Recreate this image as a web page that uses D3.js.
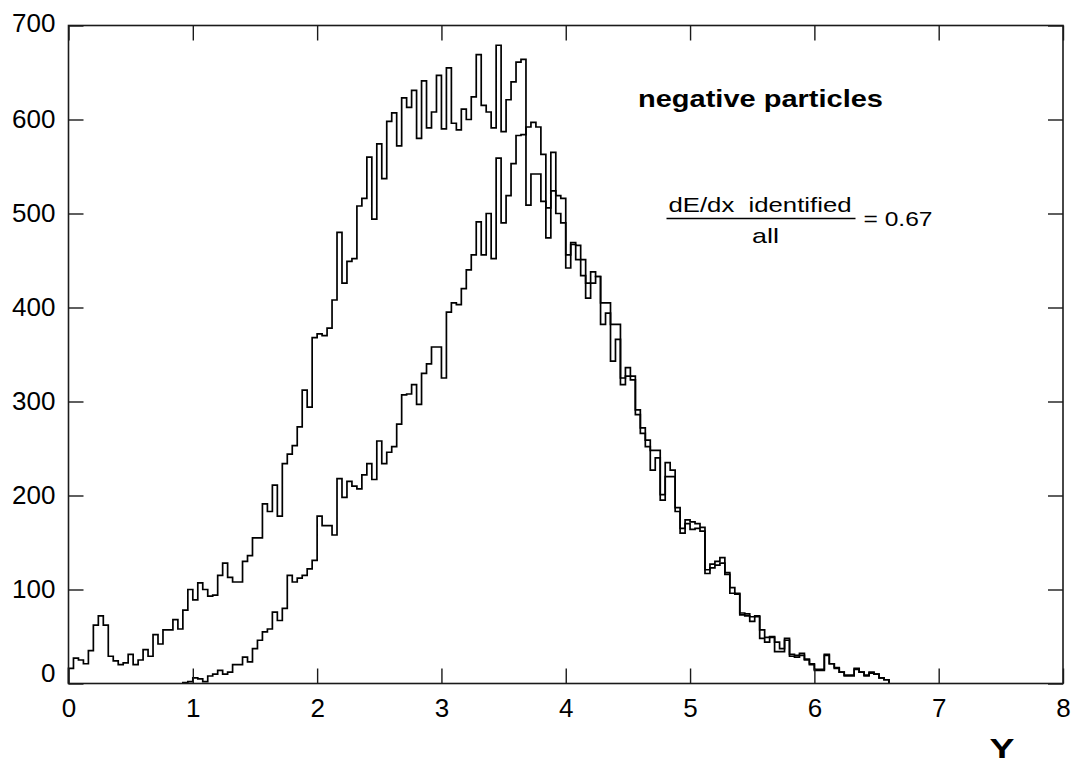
<!DOCTYPE html>
<html><head><meta charset="utf-8">
<script src="https://cdn.jsdelivr.net/npm/d3@7"></script>
<style>body{margin:0;background:#fff}svg{display:block}</style>
</head><body>
<svg id="c" width="1071" height="764"></svg>
<script>
// ---- data ----
const binWidth = 0.04;           // rapidity bin width
const allStart = 0.0;            // first bin of "all" histogram
const allCounts = [
 16,27,25,21,35,62,72,62,29,24, 20,22,31,20,25,36,29,52,42,57,
 57,68,58,78,100,89,107,100,93,94, 115,128,113,108,108,130,136,155,155,191,
 183,211,178,234,244,253,273,312,294,368, 372,370,378,408,480,426,449,452,508,516,
 560,494,574,537,598,607,572,623,613,631, 580,641,591,608,647,590,655,596,589,611,
 600,624,669,615,608,591,679,587,621,640, 661,664,509,542,542,513,474,524,519,516,
 456,469,466,451,426,438,433,405,405,382, 382,325,336,327,291,272,259,248,248,201,
 235,227,187,165,174,172,170,166,121,127, 130,134,118,102,96,75,74,71,72,57,
 49,50,44,37,48,31,30,32,26,21, 15,15,31,21,17,12,9,9,16,12,
 9,12,10,6,4
];
const identifiedStart = 0.92;    // first bin of "dE/dx identified" histogram
const identifiedCounts = [
 1,2,6,5,2,8,10,14,10,12, 20,20,28,23,37,46,55,58,76,67,
 80,115,108,112,115,122,131,178,168,168, 158,218,198,215,210,207,222,234,217,258,
 234,246,252,276,307,308,318,297,330,340, 358,358,325,395,405,403,420,440,456,491,
 456,500,452,559,490,519,553,583,584,592, 597,592,563,506,565,500,490,442,467,451,
 434,410,426,433,382,394,343,366,318,327, 323,286,266,252,227,240,195,220,220,183,
 160,170,164,165,162,117,123,126,128,116, 96,95,73,72,66,71,48,44,49,34,
 34,46,29,28,30,25,20,14,14,30, 21,16,12,8,8,15,12,8,11,10,
 6,4
];
const xTicks = [0,1,2,3,4,5,6,7,8];
const yTicks = [0,100,200,300,400,500,600,700];
const titleText = "negative particles";
const ratioNumerator = "dE/dx  identified";
const ratioDenominator = "all";
const ratioValue = "= 0.67";
const xTitle = "Y";

// ---- layout ----
const svg = d3.select("#c");
const L = 68.5, R = 1063, T = 25.5, B = 683.5;
const x = d3.scaleLinear().domain([0, 8]).range([L, R]);
const y = d3.scaleLinear().domain([0, 700]).range([B, T]);
const FONT = "'Liberation Sans', Arial, Helvetica, sans-serif";
const INK = "#1a1a1a";

function histPoints(start, counts) {
  const pts = [[start, 0]];
  counts.forEach((c, i) => pts.push([start + i * binWidth, c]));
  const end = start + counts.length * binWidth;
  pts.push([end, counts[counts.length - 1]]);
  pts.push([end, 0]);
  return pts;
}
const line = d3.line().x(d => x(d[0])).y(d => y(d[1])).curve(d3.curveStepAfter);

const plot = svg.append("g");
[[allStart, allCounts], [identifiedStart, identifiedCounts]].forEach(([s, c]) => {
  plot.append("path").attr("d", line(histPoints(s, c)))
    .attr("fill", "none").attr("stroke", "#000").attr("stroke-width", 1.7)
    .attr("stroke-linejoin", "miter");
});

// frame
svg.append("rect").attr("x", L).attr("y", T).attr("width", R - L).attr("height", B - T)
  .attr("fill", "none").attr("stroke", INK).attr("stroke-width", 1.6);

// axes
function styleAxis(g) {
  g.select(".domain").remove();
  g.selectAll(".tick line").attr("stroke", INK).attr("stroke-width", 1.4);
  g.selectAll(".tick text").attr("fill", "#000").style("font-family", FONT).style("font-size", "26px");
}
svg.append("g").attr("transform", `translate(0,${B})`)
  .call(d3.axisBottom(x).tickValues(xTicks).tickSize(-15).tickPadding(15).tickFormat(d3.format("d")))
  .call(styleAxis);
svg.append("g").attr("transform", `translate(0,${T})`)
  .call(d3.axisTop(x).tickValues(xTicks).tickSize(-15).tickFormat(""))
  .call(styleAxis);
const yAx = svg.append("g").attr("transform", `translate(${L},0)`)
  .call(d3.axisLeft(y).tickValues(yTicks).tickSize(-15).tickPadding(13).tickFormat(d3.format("d")))
  .call(styleAxis);
yAx.selectAll(".tick text").filter(d => d === 0).attr("dy", "-0.08em");
yAx.selectAll(".tick text").filter(d => d === 700).attr("dy", "0.22em");
svg.append("g").attr("transform", `translate(${R},0)`)
  .call(d3.axisRight(y).tickValues(yTicks).tickSize(-15).tickFormat(""))
  .call(styleAxis);

// texts
svg.append("text").attr("x", 638).attr("y", 107).text(titleText)
  .style("font-family", FONT).style("font-weight", "bold").style("font-size", "24.5px")
  .attr("textLength", 245).attr("lengthAdjust", "spacingAndGlyphs");
svg.append("text").attr("x", 668.5).attr("y", 212).text(ratioNumerator)
  .style("font-family", FONT).style("font-size", "21px").style("white-space", "pre")
  .attr("xml:space", "preserve")
  .attr("textLength", 183).attr("lengthAdjust", "spacingAndGlyphs");
svg.append("line").attr("x1", 666.5).attr("x2", 855.5).attr("y1", 218.5).attr("y2", 218.5)
  .attr("stroke", "#000").attr("stroke-width", 1.4);
svg.append("text").attr("x", 752).attr("y", 243).text(ratioDenominator)
  .style("font-family", FONT).style("font-size", "21px")
  .attr("textLength", 27).attr("lengthAdjust", "spacingAndGlyphs");
svg.append("text").attr("x", 863.5).attr("y", 226).text(ratioValue)
  .style("font-family", FONT).style("font-size", "21px").style("white-space", "pre")
  .attr("textLength", 69).attr("lengthAdjust", "spacingAndGlyphs");
svg.append("text").attr("x", 1002).attr("y", 758).attr("text-anchor", "middle").text(xTitle)
  .style("font-family", FONT).style("font-weight", "bold").style("font-size", "28px")
  .attr("textLength", 25).attr("lengthAdjust", "spacingAndGlyphs");
</script>
</body></html>
